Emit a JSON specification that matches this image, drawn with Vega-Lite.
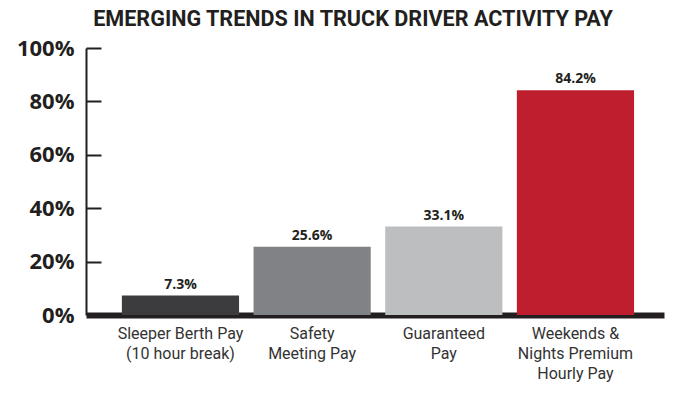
{
  "$schema": "https://vega.github.io/schema/vega-lite/v6.json",
  "width": 578,
  "height": 267,
  "autosize": {"type": "none"},
  "padding": {"left": 86, "top": 48, "right": 20, "bottom": 83},
  "background": "white",
  "title": {
    "text": "EMERGING TRENDS IN TRUCK DRIVER ACTIVITY PAY",
    "font": "Roboto",
    "fontSize": 21.6,
    "fontWeight": "bold",
    "color": "#231f20",
    "anchor": "middle",
    "dx": -22,
    "offset": 6
  },
  "data": {
    "values": [
      {"category": "Sleeper Berth Pay\n(10 hour break)", "share": 0.073},
      {"category": "Safety\nMeeting Pay", "share": 0.256},
      {"category": "Guaranteed\nPay", "share": 0.331},
      {"category": "Weekends &\nNights Premium\nHourly Pay", "share": 0.842}
    ]
  },
  "config": {"view": {"stroke": null}},
  "encoding": {
    "x": {
      "field": "category",
      "type": "nominal",
      "sort": null,
      "scale": {"paddingInner": 0.11, "paddingOuter": 0.25, "align": 0.545},
      "axis": {
        "title": null,
        "labelAngle": 0,
        "labelExpr": "split(datum.value, '\\n')",
        "labelFont": "Roboto",
        "labelFontSize": 16,
        "labelColor": "#333333",
        "labelLineHeight": 20,
        "labelPadding": 10,
        "ticks": false,
        "domain": true,
        "domainColor": "#231f20",
        "domainWidth": 6
      }
    }
  },
  "layer": [
    {
      "mark": {"type": "bar"},
      "encoding": {
        "y": {
          "field": "share",
          "type": "quantitative",
          "scale": {"domain": [0, 1]},
          "axis": {
            "title": null,
            "values": [0, 0.2, 0.4, 0.6, 0.8, 1],
            "format": ".0%",
            "grid": false,
            "domain": true,
            "domainColor": "#231f20",
            "domainWidth": 2,
            "ticks": false,
            "labelFont": "Open Sans",
            "labelFontWeight": "bold",
            "labelFontSize": 22,
            "labelColor": "#231f20",
            "labelPadding": 12
          }
        },
        "color": {
          "field": "category",
          "type": "nominal",
          "sort": null,
          "scale": {"range": ["#3c3c3e", "#808285", "#bcbec0", "#be1e2d"]},
          "legend": null
        }
      }
    },
    {
      "mark": {
        "type": "text",
        "font": "Open Sans",
        "fontWeight": "bold",
        "fontSize": 14,
        "color": "#231f20",
        "baseline": "alphabetic",
        "dy": -7
      },
      "encoding": {
        "y": {
          "field": "share",
          "type": "quantitative",
          "scale": {"domain": [0, 1]},
          "axis": {
            "title": null,
            "orient": "left",
            "offset": -15,
            "values": [0.2, 0.4, 0.6, 0.8, 1],
            "grid": false,
            "domain": false,
            "labels": false,
            "ticks": true,
            "tickSize": 15,
            "tickWidth": 2,
            "tickColor": "#231f20"
          }
        },
        "text": {"field": "share", "type": "quantitative", "format": ".1%"}
      }
    }
  ],
  "resolve": {"axis": {"y": "independent"}}
}
